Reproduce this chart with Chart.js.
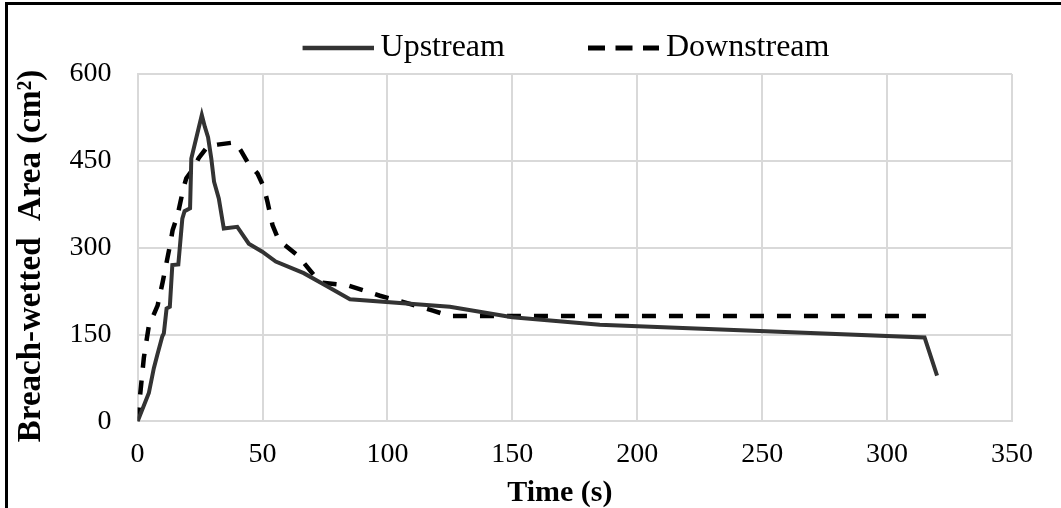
<!DOCTYPE html>
<html>
<head>
<meta charset="utf-8">
<script src="https://cdn.jsdelivr.net/npm/chart.js@4/dist/chart.umd.min.js"></script>
<style>
  html, body { margin: 0; padding: 0; background: #fff; }
  #wrap { position: relative; width: 1061px; height: 508px; overflow: hidden; }
  #frame { position: absolute; left: 5px; top: 2px; width: 1100px; height: 600px;
           border-top: 3px solid #000; border-left: 3px solid #000; pointer-events: none; }
  canvas { position: absolute; left: 0; top: 0; }
</style>
</head>
<body>
<div id="wrap">
  <canvas id="chartArea" width="1061" height="508"></canvas>
  <div id="frame"></div>
</div>
<script>
// time (s) and breach-wetted area (cm2)
const upTime = [0, 4.5, 6.5, 7.9, 9.9, 10.5, 11.6, 12.9, 13.9, 16.3, 17.9, 18.8, 21, 21.5, 25.7, 26.9, 28.2, 29.5, 30.6, 32.5, 34.5, 39.9, 44.5, 49.9, 55.3, 66.5, 76, 85, 125, 150, 185, 315, 320];
const upArea = [0, 49, 92, 115, 147, 152, 195, 198, 270, 271, 350, 363, 368, 454, 529, 509, 491, 454, 414, 385, 333, 336, 307, 293, 276, 256, 233, 211, 198, 180, 167, 145, 79];

const downTime = [0, 1, 2.5, 4.5, 8, 10, 13, 14, 16, 18.3, 19.5, 22, 24.5, 28, 32, 39, 41.3, 44, 48, 50.5, 52, 54, 56.5, 64, 73, 84, 97, 106.5, 118.5, 125, 320];
const downArea = [0, 45, 110, 165, 200, 240, 305, 330, 356, 402, 420, 435, 455, 475, 478, 482, 468, 448, 428, 405, 379, 339, 313, 287, 240, 235, 217, 206, 191, 182, 182];

const xTicks = [0, 50, 100, 150, 200, 250, 300, 350];
const yTicks = [0, 150, 300, 450, 600];

const toPoints = (xs, ys) => xs.map((x, i) => ({ x: x, y: ys[i] }));

const serif = "'Liberation Serif', 'Times New Roman', serif";
const gridColor = "#d9d9d9";

// legend symbol: a short line sitting just left of the label text
const KEY_BOX = 128;
function keyLine(color, width, dash) {
  const c = document.createElement("canvas");
  c.width = 146;
  c.height = 10;
  const g = c.getContext("2d");
  g.strokeStyle = color;
  g.lineWidth = width;
  g.setLineDash(dash);
  g.beginPath();
  g.moveTo(75, 5);
  g.lineTo(146, 5);
  g.stroke();
  return c;
}

new Chart(document.getElementById("chartArea"), {
  type: "line",
  data: {
    datasets: [
      {
        label: "Upstream",
        data: toPoints(upTime, upArea),
        borderColor: "#333333",
        backgroundColor: "#333333",
        borderWidth: 4,
        pointRadius: 0,
        pointStyle: keyLine("#333333", 4.5, []),
        tension: 0
      },
      {
        label: "Downstream",
        data: toPoints(downTime, downArea),
        borderColor: "#000000",
        backgroundColor: "#000000",
        borderWidth: 4.5,
        borderDash: [14, 13],
        pointRadius: 0,
        pointStyle: keyLine("#000000", 5, [17, 10.5]),
        tension: 0
      }
    ]
  },
  options: {
    responsive: false,
    animation: false,
    layout: { padding: { left: 54, right: 49, top: 15, bottom: 0 } },
    plugins: {
      tooltip: { enabled: false },
      legend: {
        position: "top",
        labels: {
          usePointStyle: true,
          pointStyleWidth: KEY_BOX,
          padding: 17,
          color: "#000",
          font: { family: serif, size: 32 }
        }
      }
    },
    scales: {
      x: {
        type: "linear",
        min: 0,
        max: 350,
        afterBuildTicks: axis => { axis.ticks = xTicks.map(v => ({ value: v })); },
        grid: { color: gridColor, lineWidth: 2, drawTicks: false },
        border: { color: gridColor, width: 2 },
        ticks: { color: "#000", padding: 16, maxRotation: 0, font: { family: serif, size: 28 } },
        title: {
          display: true,
          text: "Time (s)    ",
          color: "#000",
          padding: { top: -9, bottom: 0 },
          font: { family: serif, size: 30, weight: "bold", lineHeight: 1 }
        }
      },
      y: {
        min: 0,
        max: 600,
        afterBuildTicks: axis => { axis.ticks = yTicks.map(v => ({ value: v })); },
        grid: { color: gridColor, lineWidth: 2, drawTicks: false },
        border: { color: gridColor, width: 2 },
        ticks: { color: "#000", padding: 26, font: { family: serif, size: 28 } },
        title: {
          display: true,
          text: "Breach-wetted  Area (cm²)  ",
          color: "#000",
          padding: { top: -42, bottom: -8 },
          font: { family: serif, size: 33, weight: "bold" }
        }
      }
    }
  }
});
</script>
</body>
</html>
